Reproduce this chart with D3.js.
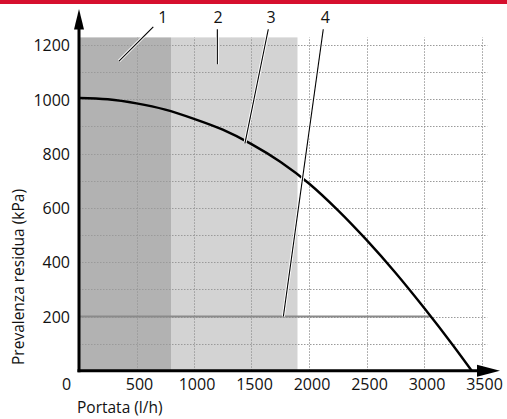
<!DOCTYPE html>
<html>
<head>
<meta charset="utf-8">
<script src="https://cdn.jsdelivr.net/npm/d3@7"></script>
<style>
  html, body { margin: 0; padding: 0; background: #fff; }
  svg { display: block; }
  text { font-family: "Open Sans", sans-serif; }
</style>
</head>
<body>
<div id="chart"></div>
<script>
// ---- data ----
const xTicks = [0, 500, 1000, 1500, 2000, 2500, 3000, 3500];
const yTicks = [200, 400, 600, 800, 1000, 1200];
const yGrid = [100, 200, 300, 400, 500, 600, 700, 800, 900, 1000, 1100, 1200];
const xLabel = "Portata (l/h)";
const yLabel = "Prevalenza residua (kPa)";
// zones: [from, to, top]
const zoneDark = [0, 800, 1228];
const zoneLight = [800, 1900, 1228];
// curve 3 (pump curve): flow l/h, head kPa
const curveQ = [0, 250, 500, 750, 1000, 1250, 1500, 1750, 2000, 2250, 2500, 2750, 3000, 3250, 3415];
const curveH = [1005, 1000, 985, 962, 928, 888, 835, 770, 690, 592, 482, 362, 232, 95, 0];
// line 4 (minimum head)
const line4Q = [0, 3050];
const line4H = [200, 200];
// callouts: label, label flow, leader start (Q,H), leader end (Q,H)
const calloutNames = ["1", "2", "3", "4"];
const calloutLabelQ = [730, 1209, 1670, 2143];
const calloutFrom = [[646, 1267], [1203, 1258], [1646, 1258], [2124, 1258]];
const calloutTo = [[348, 1141], [1203, 1129], [1443, 838], [1777, 200]];

// ---- layout ----
const W = 507, H = 419;
const svg = d3.select("#chart").append("svg").attr("width", W).attr("height", H);

const x = d3.scaleLinear().domain([0, 3500]).range([79, 481.5]);
const y = d3.scaleLinear().domain([0, 1200]).range([370.8, 45]);

// red top band
svg.append("rect").attr("x", 0).attr("y", 0).attr("width", W).attr("height", 4).attr("fill", "#d6102e");

// zones
svg.append("rect")
  .attr("x", x(zoneDark[0])).attr("y", y(zoneDark[2]))
  .attr("width", x(zoneDark[1]) - x(zoneDark[0])).attr("height", y(0) - y(zoneDark[2]))
  .attr("fill", "#b2b2b2");
svg.append("rect")
  .attr("x", x(zoneLight[0])).attr("y", y(zoneLight[2]))
  .attr("width", x(zoneLight[1]) - x(zoneLight[0])).attr("height", y(0) - y(zoneLight[2]))
  .attr("fill", "#d3d3d3");

// grid
const grid = svg.append("g").attr("stroke", "#9a9a9a").attr("stroke-width", 1).attr("stroke-dasharray", "1.5,1.5");
grid.selectAll("line.h").data(yGrid).join("line")
  .attr("x1", x(0)).attr("x2", x(3550))
  .attr("y1", d => Math.round(y(d)) + 0.5).attr("y2", d => Math.round(y(d)) + 0.5);
grid.selectAll("line.v").data(xTicks.filter(d => d > 0)).join("line")
  .attr("x1", d => Math.round(x(d)) + 0.5).attr("x2", d => Math.round(x(d)) + 0.5)
  .attr("y1", y(0)).attr("y2", y(1228));

// line 4
const line = d3.line().x(d => x(d[0])).y(d => y(d[1]));
svg.append("path")
  .datum(line4Q.map((q, i) => [q, line4H[i]]))
  .attr("d", line).attr("fill", "none").attr("stroke", "#8a8a8a").attr("stroke-width", 2.2);

// curve 3
svg.append("path")
  .datum(curveQ.map((q, i) => [q, curveH[i]]))
  .attr("d", line.curve(d3.curveMonotoneX)).attr("fill", "none")
  .attr("stroke", "#000").attr("stroke-width", 2.4);

// callouts
const co = svg.append("g");
calloutNames.forEach((name, i) => {
  const [q1, h1] = calloutFrom[i], [q2, h2] = calloutTo[i];
  co.append("line").attr("x1", x(q1)).attr("y1", y(h1)).attr("x2", x(q2)).attr("y2", y(h2))
    .attr("stroke", "#fff").attr("stroke-width", 3);
  co.append("line").attr("x1", x(q1)).attr("y1", y(h1)).attr("x2", x(q2)).attr("y2", y(h2))
    .attr("stroke", "#000").attr("stroke-width", 1.1);
  co.append("text").attr("x", x(calloutLabelQ[i])).attr("y", 23)
    .attr("text-anchor", "middle").attr("font-size", 16).attr("fill", "#111").text(name);
});

// axes (labels)
const gx = svg.append("g").attr("transform", `translate(0,${y(0)})`)
  .call(d3.axisBottom(x).tickValues(xTicks).tickSize(0).tickPadding(8).tickFormat(d3.format("d")));
gx.select(".domain").remove();
gx.selectAll("text").attr("font-size", 16).attr("font-family", "Open Sans, sans-serif").attr("fill", "#111")
  .attr("dx", d => d === 0 ? -13 : 2.5);

const gy = svg.append("g").attr("transform", `translate(${x(0)},0)`)
  .call(d3.axisLeft(y).tickValues(yTicks).tickSize(0).tickPadding(9).tickFormat(d3.format("d")));
gy.select(".domain").remove();
gy.selectAll("text").attr("font-size", 16).attr("font-family", "Open Sans, sans-serif").attr("fill", "#111")
  .attr("dy", "0.36em");

// axis lines with arrows
svg.append("line").attr("x1", x(0) - 1.5).attr("x2", 479).attr("y1", y(0)).attr("y2", y(0))
  .attr("stroke", "#000").attr("stroke-width", 3);
svg.append("path").attr("d", `M477,${y(0) - 6}L500,${y(0)}L477,${y(0) + 6}Z`).attr("fill", "#000");
svg.append("line").attr("x1", x(0)).attr("x2", x(0)).attr("y1", y(0) + 1.5).attr("y2", 28)
  .attr("stroke", "#000").attr("stroke-width", 3);
svg.append("path").attr("d", `M${x(0) - 5},29.5L${x(0)},9L${x(0) + 5},29.5Z`).attr("fill", "#000");

// axis titles
svg.append("text").attr("x", 77).attr("y", 413.2).attr("font-size", 15.5).attr("fill", "#111").text(xLabel);
svg.append("text").attr("transform", "translate(24,277) rotate(-90)").attr("text-anchor", "middle")
  .attr("font-size", 15.5).attr("fill", "#111").text(yLabel);
</script>
</body>
</html>
